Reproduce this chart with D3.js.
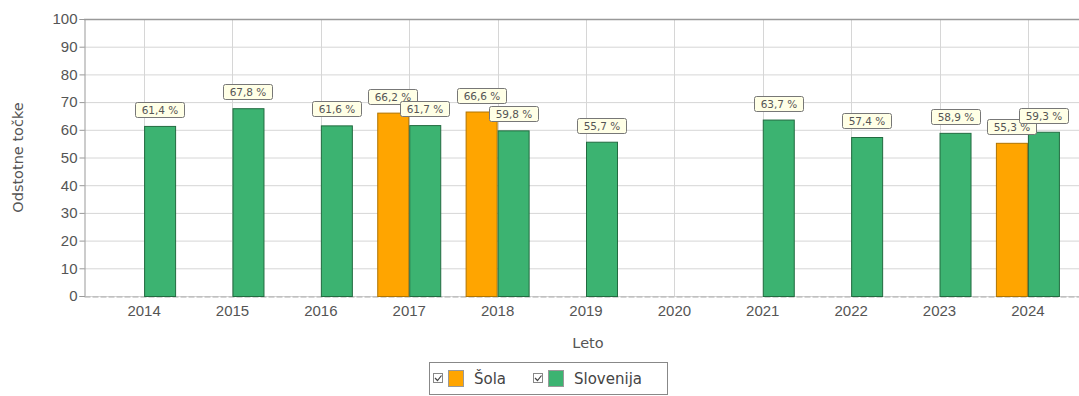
<!DOCTYPE html>
<html>
<head>
<meta charset="utf-8">
<script src="https://cdn.jsdelivr.net/npm/d3@7"></script>
<style>
  body { margin: 0; background: #fff; }
  svg { display: block; font-family: "DejaVu Sans", Verdana, sans-serif; }
  .axis text { fill: #555; font-size: 15px; }
  .lbl text { font-size: 10.5px; fill: #555; }
</style>
</head>
<body>
<div id="canvas"></div>
<script>
var years = ['2014','2015','2016','2017','2018','2019','2020','2021','2022','2023','2024'];
var seriesNames = ['Šola', 'Slovenija'];
var sola = [null, null, null, 66.2, 66.6, null, null, null, null, null, 55.3];
var slovenija = [61.4, 67.8, 61.6, 61.7, 59.8, 55.7, null, 63.7, 57.4, 58.9, 59.3];
var yTicks = [0,10,20,30,40,50,60,70,80,90,100];
var colors = ['#ffa500', '#3cb371'];

var W = 1079, H = 396;
var m = {t:19, l:84};
var plotR = 1088, plotB = 296;

var svg = d3.select('#canvas').append('svg')
    .attr('width', W).attr('height', H);

// Scales
var scaleX = d3.scaleBand()
    .domain(years)
    .range([m.l, plotR])
    .paddingInner(0)
    .paddingOuter(0.18);
var scaleSub = d3.scaleBand()
    .domain(seriesNames)
    .range([scaleX.bandwidth()/2 - 32, scaleX.bandwidth()/2 + 32]);
var scaleY = d3.scaleLinear()
    .domain([0,100])
    .range([plotB, m.t]);

// Grid
svg.append('g').selectAll('line.h').data(yTicks).enter()
  .append('line')
  .attr('x1', m.l).attr('x2', plotR)
  .attr('y1', function(d){ return scaleY(d)+0.5; })
  .attr('y2', function(d){ return scaleY(d)+0.5; })
  .attr('stroke', '#d6d6d6');
svg.append('g').selectAll('line.v').data(years).enter()
  .append('line')
  .attr('x1', function(d){ return Math.round(scaleX(d) + scaleX.bandwidth()/2)+0.5; })
  .attr('x2', function(d){ return Math.round(scaleX(d) + scaleX.bandwidth()/2)+0.5; })
  .attr('y1', m.t).attr('y2', plotB)
  .attr('stroke', '#d6d6d6');
// top border
svg.append('line')
  .attr('x1', m.l).attr('x2', plotR)
  .attr('y1', m.t + 0.5).attr('y2', m.t + 0.5)
  .attr('stroke', '#999').attr('stroke-width', 1.5);

// Axes
var axisY = d3.axisLeft(scaleY).tickValues(yTicks).tickSize(5).tickPadding(2);
var gy = svg.append('g').attr('class','axis')
  .attr('transform','translate(' + (m.l+0.5) + ',0)')
  .call(axisY);
gy.select('.domain').attr('stroke', '#999');
gy.selectAll('.tick line').attr('stroke', '#999');

var axisX = d3.axisBottom(scaleX).tickSize(0).tickPadding(9);
var gx = svg.append('g').attr('class','axis')
  .attr('transform','translate(0,' + (plotB+0.5) + ')')
  .call(axisX);
gx.select('.domain').attr('stroke', '#aaa').attr('stroke-dasharray', '6,2');

// Axis titles
svg.append('text')
  .attr('transform', 'translate(23,' + ((m.t+plotB)/2) + ') rotate(-90)')
  .attr('text-anchor', 'middle')
  .style('font-size', '14.5px').style('fill', '#555')
  .text('Odstotne točke');
svg.append('text')
  .attr('x', 588).attr('y', 348)
  .attr('text-anchor', 'middle')
  .style('font-size', '14.5px').style('fill', '#555')
  .text('Leto');

// Bars
var data = [];
years.forEach(function(y, i){
  if (sola[i] != null) data.push({year:y, s:'Šola', v:sola[i], c:colors[0]});
  if (slovenija[i] != null) data.push({year:y, s:'Slovenija', v:slovenija[i], c:colors[1]});
});

svg.append('g').selectAll('rect').data(data).enter()
  .append('rect')
  .attr('x', function(d){ return scaleX(d.year) + scaleSub(d.s) + 0.5; })
  .attr('y', function(d){ return scaleY(d.v) + 0.5; })
  .attr('width', scaleSub.bandwidth() - 1)
  .attr('height', function(d){ return plotB - scaleY(d.v); })
  .attr('fill', function(d){ return d.c; })
  .attr('stroke', function(d){ return d.s == 'Šola' ? '#b07400' : '#226b40'; })
  .attr('stroke-width', 1);

// Value labels
var lbl = svg.append('g').attr('class','lbl').selectAll('g').data(data).enter()
  .append('g')
  .attr('transform', function(d){
    var cx = scaleX(d.year) + scaleSub(d.s) + scaleSub.bandwidth()/2;
    return 'translate(' + Math.round(cx) + ',' + Math.round(scaleY(d.v) - 16) + ')';
  });
lbl.append('rect')
  .attr('x', -24.5).attr('y', -7.5)
  .attr('width', 49).attr('height', 15)
  .attr('rx', 2)
  .attr('fill', '#ffffe6')
  .attr('stroke', '#777');
lbl.append('text')
  .attr('text-anchor', 'middle')
  .attr('dy', '0.35em')
  .text(function(d){ return d.v.toFixed(1).replace('.', ',') + ' %'; });

// Legend
var leg = svg.append('g').attr('transform', 'translate(429,362)');
leg.append('rect')
  .attr('x', 0.5).attr('y', 0.5).attr('width', 238).attr('height', 32)
  .attr('fill', '#fff').attr('stroke', '#888');
var legX = [4, 104];
seriesNames.forEach(function(n, i){
  var g = leg.append('g').attr('transform', 'translate(' + legX[i] + ',8)');
  g.append('rect').attr('x', 0.5).attr('y', 3.5).attr('width', 9).attr('height', 9)
    .attr('fill', '#fff').attr('stroke', '#888');
  g.append('path').attr('d', 'M2,8 L4.5,10.5 L8.5,5.5')
    .attr('fill', 'none').attr('stroke', '#444').attr('stroke-width', 1.2);
  g.append('rect').attr('x', 15.5).attr('y', 0.5).attr('width', 15).attr('height', 16)
    .attr('fill', colors[i]).attr('stroke', '#999');
  g.append('text').attr('x', 41).attr('y', 14)
    .style('font-size', '15px').style('fill', '#444')
    .text(n);
});
</script>
</body>
</html>
